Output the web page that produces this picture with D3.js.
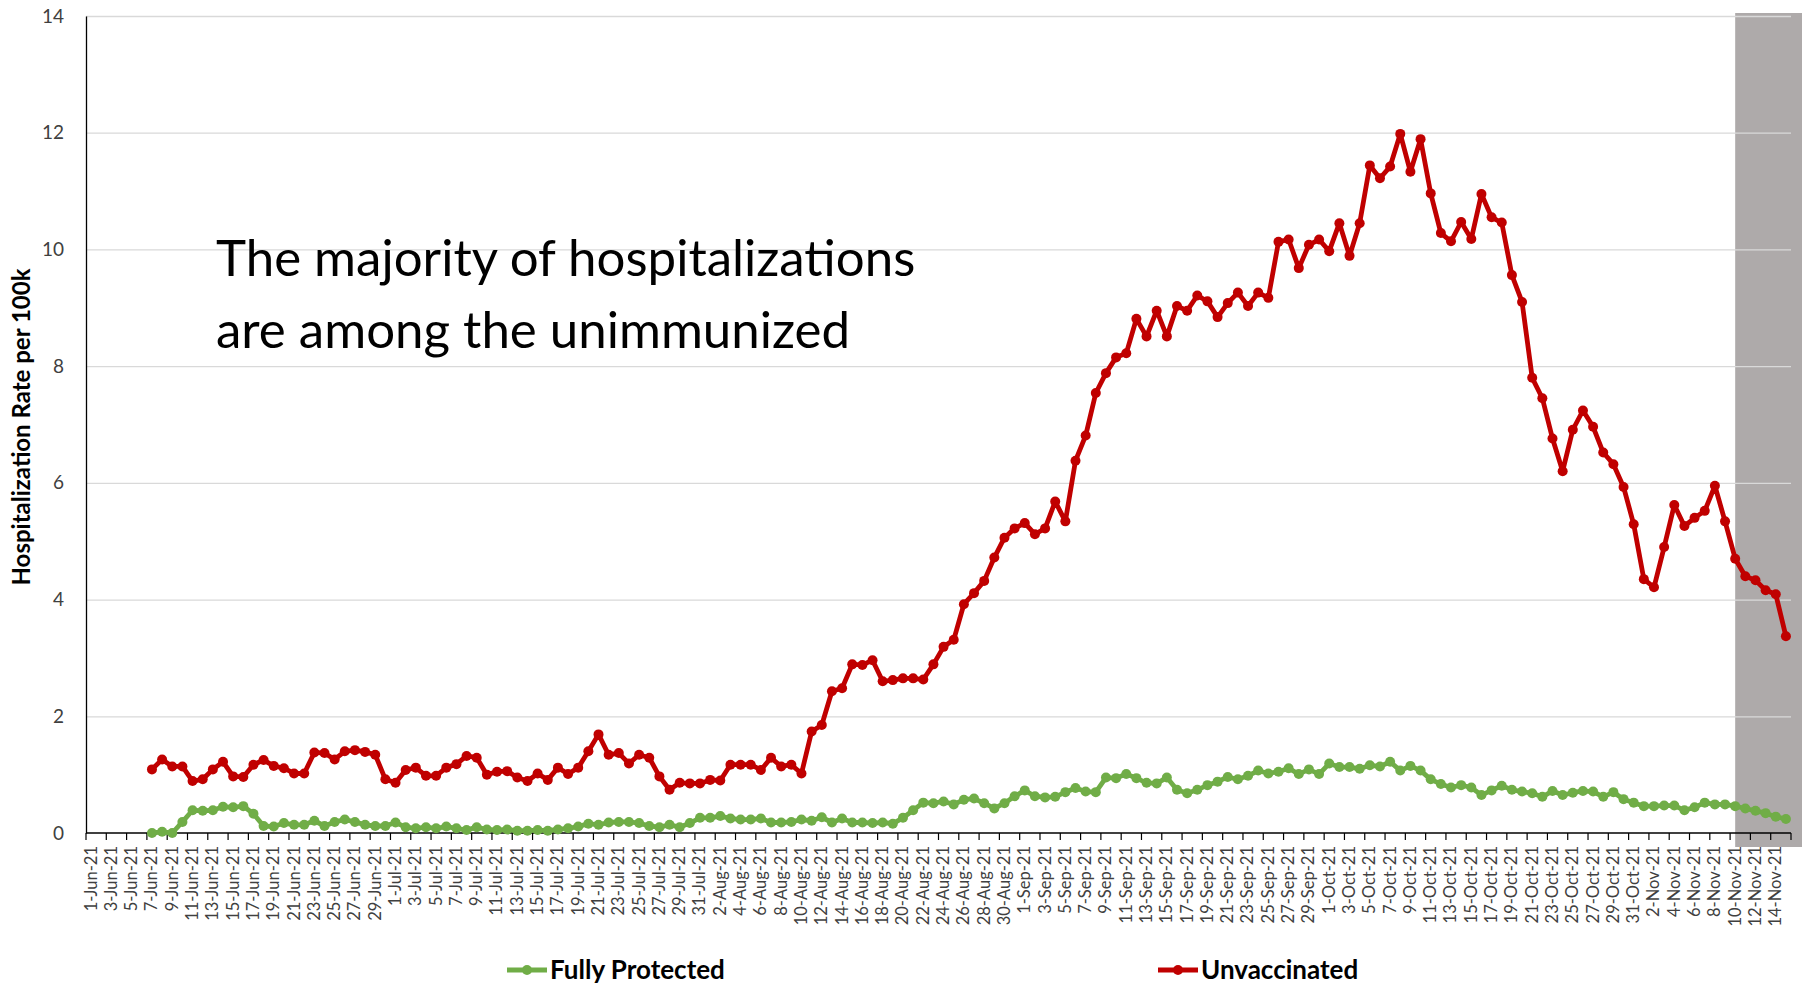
<!DOCTYPE html>
<html lang="en">
  <head>
    <meta charset="UTF-8" />
    <title>Hospitalization Rate per 100k</title>
    <script src="https://cdn.jsdelivr.net/npm/d3@7/dist/d3.min.js"></script>
    <style>
      body { margin: 0; background: #ffffff; }
      svg { display: block; }
      text { font-family: Lato, "Open Sans", sans-serif; }
      .grid line { stroke: #d9d9d9; stroke-width: 1.3px; }
      .grid .domain { display: none; }
      .yaxis .domain { stroke: #000; stroke-width: 1.3px; }
      .yaxis text { font-size: 19px; fill: #404040; }
      .xaxis text { font-size: 16.5px; fill: #404040; }
      .xaxis .domain { display: none; }
      .xticks line { stroke: #000; stroke-width: 1.2px; }
      .baseline { stroke: #000; stroke-width: 1.4px; }
    </style>
  </head>
  <body>
    <script>

      // categories: one per day, 1-Jun-21 to 15-Nov-21
      var dates = d3.timeDay.range(new Date(2021, 5, 1), new Date(2021, 10, 16));
      var categories = dates.map(d3.timeFormat("%-d-%b-%y"));

      // both series start on this day
      var dataStart = "7-Jun-21";

      // hospitalization rate per 100k, fully protected (7-Jun to 15-Nov)
      var fullyProtected = [
        0.00, 0.02, 0.00, 0.19, 0.39, 0.38, 0.39, 0.45, 0.44, 0.46,
        0.33, 0.12, 0.11, 0.17, 0.14, 0.14, 0.21, 0.12, 0.19, 0.23,
        0.19, 0.14, 0.12, 0.12,
        0.18, 0.10, 0.08, 0.10, 0.08, 0.11, 0.08, 0.05, 0.10, 0.06,
        0.05, 0.06, 0.04, 0.04, 0.05, 0.04, 0.06, 0.08, 0.11, 0.16,
        0.14, 0.18, 0.19, 0.19, 0.17, 0.12, 0.10, 0.14, 0.10, 0.17,
        0.26,
        0.26, 0.29, 0.25, 0.23, 0.23, 0.25, 0.18, 0.18, 0.19, 0.23,
        0.21, 0.27, 0.18, 0.25, 0.18, 0.18, 0.17, 0.18, 0.16, 0.26,
        0.39, 0.52, 0.51, 0.54, 0.49, 0.57, 0.59, 0.51, 0.42, 0.51,
        0.63,
        0.73, 0.63, 0.61, 0.62, 0.70, 0.77, 0.71, 0.70, 0.95, 0.94,
        1.01, 0.94, 0.86, 0.85, 0.95, 0.74, 0.68, 0.74, 0.82, 0.88,
        0.96, 0.92, 0.98, 1.07, 1.02, 1.05, 1.11, 1.01, 1.09, 1.01,
        1.19, 1.13, 1.13, 1.10, 1.16, 1.14, 1.22, 1.07, 1.15, 1.07,
        0.92, 0.84, 0.78, 0.82, 0.78, 0.65, 0.73, 0.81, 0.74, 0.71,
        0.68, 0.62, 0.72, 0.65, 0.69, 0.72, 0.71, 0.62, 0.70, 0.58,
        0.52,
        0.46, 0.46, 0.47, 0.47, 0.39, 0.44, 0.52, 0.49, 0.49, 0.46,
        0.42, 0.38, 0.34, 0.28, 0.24
      ];

      // hospitalization rate per 100k, unvaccinated (7-Jun to 15-Nov)
      var unvaccinated = [
        1.09, 1.26, 1.14, 1.14, 0.89, 0.92, 1.09, 1.22, 0.97, 0.96,
        1.17, 1.25, 1.15, 1.11, 1.02, 1.02, 1.38, 1.37, 1.26, 1.40,
        1.42, 1.39, 1.34, 0.92,
        0.86, 1.08, 1.12, 0.98, 0.98, 1.12, 1.18, 1.32, 1.29, 1.00,
        1.05, 1.06, 0.95, 0.89, 1.02, 0.91, 1.12, 1.01, 1.12, 1.40,
        1.69, 1.34, 1.37, 1.19, 1.34, 1.29, 0.97, 0.74, 0.86, 0.85,
        0.85,
        0.91, 0.90, 1.17, 1.17, 1.17, 1.08, 1.29, 1.14, 1.17, 1.02,
        1.74, 1.85, 2.43, 2.48, 2.89, 2.88, 2.96, 2.60, 2.62, 2.65,
        2.65, 2.63, 2.89, 3.19, 3.31, 3.92, 4.11, 4.32, 4.72, 5.06,
        5.22,
        5.31, 5.12, 5.22, 5.68, 5.34, 6.38, 6.81, 7.54, 7.88, 8.15,
        8.22, 8.81, 8.51, 8.95, 8.51, 9.03, 8.95, 9.21, 9.11, 8.84,
        9.08, 9.26, 9.03, 9.26, 9.17, 10.13, 10.17, 9.68, 10.08, 10.17,
        9.97, 10.45, 9.89, 10.45, 11.44, 11.22, 11.42, 11.98, 11.33, 11.89,
        10.96, 10.28, 10.14, 10.47, 10.18, 10.95, 10.55, 10.46, 9.56, 9.10,
        7.80, 7.45, 6.76, 6.20, 6.91, 7.24, 6.96, 6.52, 6.32, 5.93,
        5.29,
        4.35, 4.21, 4.90, 5.62, 5.26, 5.40, 5.52, 5.95, 5.34, 4.70,
        4.40, 4.33, 4.16, 4.09, 3.37
      ];

      // y axis tick values
      var yTicks = [0, 2, 4, 6, 8, 10, 12, 14];

      // grey band starts here (most recent, incomplete days)
      var shadeFrom = "10-Nov-21";

      // annotation and legend text
      var noteLines = ["The majority of hospitalizations", "are among the unimmunized"];
      var seriesNames = ["Fully Protected", "Unvaccinated"];
      var seriesColors = ["#70AD47", "#C00000"];


      // width, height and plot edges
      var w = 1806,
          h = 986,
          plotLeft = 86,
          plotRight = 1791,
          plotTop = 16,
          plotBottom = 833;

      var svg = d3.select("body").append("svg")
        .attr("width", w)
        .attr("height", h);

      // scales
      var xScale = d3.scaleBand()
        .domain(categories)
        .range([plotLeft, plotRight]);

      var yScale = d3.scaleLinear()
        .domain([0, 14])
        .range([plotBottom, plotTop]);

      var half = xScale.bandwidth() / 2;

      // grey shading behind the last days
      var shadeX = xScale(shadeFrom) + half;
      svg.append("rect")
        .attr("x", shadeX)
        .attr("y", plotTop - 3)
        .attr("width", w - 4 - shadeX)
        .attr("height", plotBottom + 14 - (plotTop - 3))
        .attr("fill", "#AEAAAA");

      // gridlines
      svg.append("g")
        .attr("class", "grid")
        .attr("transform", "translate(" + plotLeft + ",0)")
        .call(d3.axisLeft(yScale)
          .tickValues(yTicks.filter(function(d) { return d > 0; }))
          .tickSize(-(plotRight - plotLeft))
          .tickFormat(""));

      // y axis
      svg.append("g")
        .attr("class", "yaxis")
        .attr("transform", "translate(" + plotLeft + ",0)")
        .call(d3.axisLeft(yScale)
          .tickValues(yTicks)
          .tickSize(0)
          .tickPadding(22));

      // x axis labels, every second day, rotated
      var labelCats = categories.filter(function(d, i) { return i % 2 === 0; });

      var xAxis = svg.append("g")
        .attr("class", "xaxis")
        .attr("transform", "translate(0," + plotBottom + ")")
        .call(d3.axisBottom(xScale)
          .tickValues(labelCats)
          .tickSize(0));

      xAxis.selectAll("text")
        .attr("transform", "rotate(-90)")
        .attr("x", -13)
        .attr("y", 0)
        .attr("dy", "0.33em")
        .style("text-anchor", "end");

      // x axis line and tick marks on category edges
      svg.append("line")
        .attr("class", "baseline")
        .attr("x1", plotLeft)
        .attr("x2", plotRight)
        .attr("y1", plotBottom)
        .attr("y2", plotBottom);

      var tickEdges = labelCats.map(function(d) { return xScale(d); }).concat([plotRight]);

      svg.append("g")
        .attr("class", "xticks")
        .selectAll("line")
        .data(tickEdges)
        .enter()
        .append("line")
        .attr("x1", function(d) { return d; })
        .attr("x2", function(d) { return d; })
        .attr("y1", plotBottom)
        .attr("y2", plotBottom + 7);

      // series
      var startIndex = categories.indexOf(dataStart);

      function toPoints(values) {
        return values.map(function(v, i) {
          return { cat: categories[startIndex + i], value: v };
        });
      }

      var series = [toPoints(fullyProtected), toPoints(unvaccinated)];

      var line = d3.line()
        .x(function(d) { return xScale(d.cat) + half; })
        .y(function(d) { return yScale(d.value); });

      series.forEach(function(points, s) {
        svg.append("path")
          .datum(points)
          .attr("fill", "none")
          .attr("stroke", seriesColors[s])
          .attr("stroke-width", 4.8)
          .attr("stroke-linejoin", "round")
          .attr("d", line);

        svg.append("g")
          .selectAll("circle")
          .data(points)
          .enter()
          .append("circle")
          .attr("cx", function(d) { return xScale(d.cat) + half; })
          .attr("cy", function(d) { return yScale(d.value); })
          .attr("r", 5)
          .attr("fill", seriesColors[s]);
      });

      // y axis title
      svg.append("text")
        .attr("transform", "translate(30,427) rotate(-90)")
        .attr("text-anchor", "middle")
        .style("font-size", "24px")
        .style("font-weight", "bold")
        .attr("fill", "#000")
        .text("Hospitalization Rate per 100k");

      // annotation
      svg.append("g")
        .selectAll("text")
        .data(noteLines)
        .enter()
        .append("text")
        .attr("x", 216)
        .attr("y", function(d, i) { return 276 + i * 72; })
        .style("font-size", "51px")
        .attr("fill", "#000")
        .text(function(d) { return d; });

      // legend
      var legendX = [507, 1158];

      var legend = svg.selectAll(".legend")
        .data(seriesNames)
        .enter()
        .append("g")
        .attr("class", "legend")
        .attr("transform", function(d, i) { return "translate(" + legendX[i] + ",970)"; });

      legend.append("line")
        .attr("x1", 0)
        .attr("x2", 40)
        .attr("stroke", function(d, i) { return seriesColors[i]; })
        .attr("stroke-width", 5);

      legend.append("circle")
        .attr("cx", 20)
        .attr("r", 5)
        .attr("fill", function(d, i) { return seriesColors[i]; });

      legend.append("text")
        .attr("x", 43)
        .attr("y", 9)
        .style("font-size", "26px")
        .style("font-weight", "bold")
        .attr("fill", "#000")
        .text(function(d) { return d; });

    </script>
  </body>
</html>
